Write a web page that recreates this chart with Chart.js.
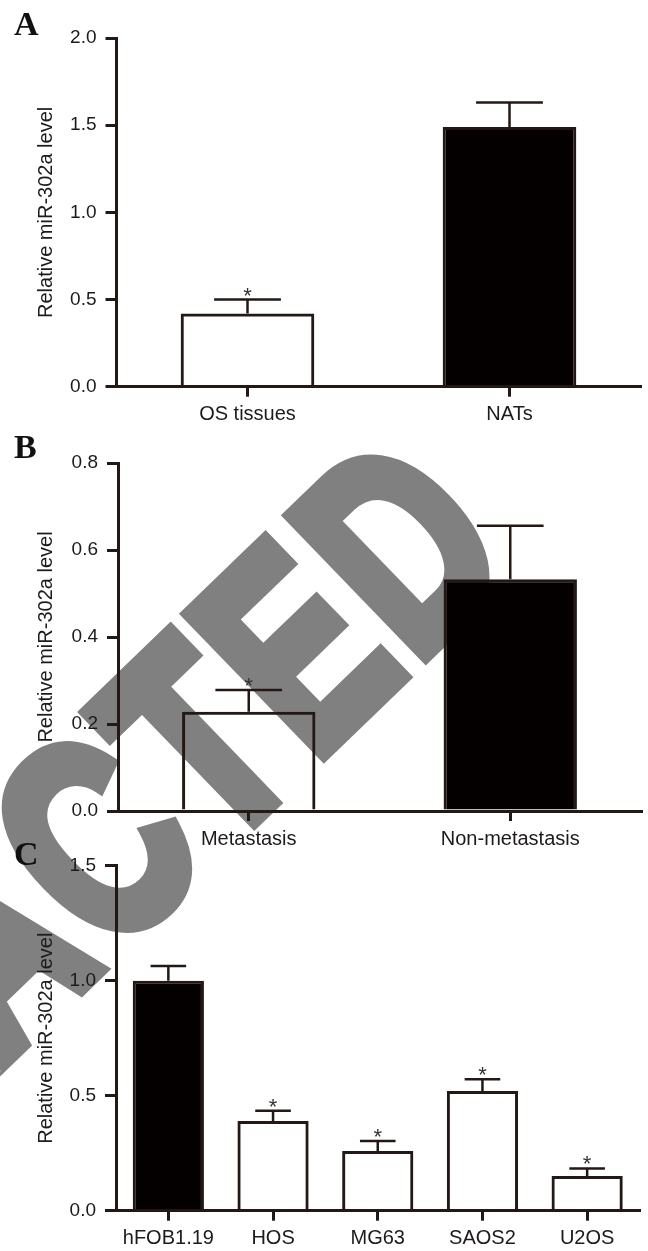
<!DOCTYPE html>
<html lang="en">
<head>
<meta charset="UTF-8">
<title>Relative miR-302a level</title>
<script src="https://cdn.jsdelivr.net/npm/chart.js@4.4.0/dist/chart.umd.min.js"></script>
<style>
  html, body { margin: 0; padding: 0; background: #fff; }
  #page { position: relative; width: 648px; height: 1251px; overflow: hidden; background: #fff; }
  .stamp {
    position: absolute; left: -581px; top: 1297px;
    font-family: 'Liberation Sans', Arial, sans-serif; font-weight: bold;
    font-size: 280px; line-height: 280px; white-space: nowrap; letter-spacing: 10px;
    color: #808080; -webkit-text-stroke: 16px #808080;
    transform-origin: 0 0; transform: rotate(-44deg) scaleX(0.72);
  }
  .panel { position: absolute; left: 0; width: 648px; }
  .panel canvas { display: block; }
  .tag {
    position: absolute; left: 14px;
    font-family: 'Liberation Serif', 'Times New Roman', serif; font-weight: bold;
    font-size: 34px; line-height: 34px; color: #111;
  }
</style>
</head>
<body>
<div id="page">
  <div class="stamp">RETRACTED</div>

  <div class="panel" style="top:0;height:432px"><canvas id="chartA" width="648" height="432"></canvas></div>
  <div class="panel" style="top:430px;height:430px"><canvas id="chartB" width="648" height="430"></canvas></div>
  <div class="panel" style="top:840px;height:411px"><canvas id="chartC" width="648" height="411"></canvas></div>

  <div class="tag" style="top:7px">A</div>
  <div class="tag" style="top:430px">B</div>
  <div class="tag" style="top:837px">C</div>
</div>

<script>
// ---- data ----
const labelsA = ['OS tissues', 'NATs'];
const meansA = [0.42, 1.49];
const sdsA = [0.08, 0.14];
const starsA = [true, false];
const ticksA = [0, 0.5, 1.0, 1.5, 2.0];

const labelsB = ['Metastasis', 'Non-metastasis'];
const meansB = [0.228, 0.533];
const sdsB = [0.05, 0.123];
const starsB = [true, false];
const ticksB = [0, 0.2, 0.4, 0.6, 0.8];

const labelsC = ['hFOB1.19', 'HOS', 'MG63', 'SAOS2', 'U2OS'];
const meansC = [1.0, 0.39, 0.26, 0.52, 0.151];
const sdsC = [0.064, 0.045, 0.043, 0.051, 0.033];
const starsC = [false, true, true, true, true];
const ticksC = [0, 0.5, 1.0, 1.5];

const yTitle = 'Relative miR-302a level';

// ---- styles ----
const INK = '#231815';
const BLACK_FILL = '#050000';
const OPEN_FILL = 'rgba(255,255,255,0)';
const FONT = "'Liberation Sans', Arial, sans-serif";

Chart.defaults.font.family = FONT;
Chart.defaults.color = '#1e1a1a';

// error bars + significance stars, positioned from the y scale
const errorBars = {
  id: 'errorBars',
  afterDatasetsDraw(chart, args, opts) {
    const ctx = chart.ctx;
    const y = chart.scales.y;
    const bars = chart.getDatasetMeta(0).data;
    ctx.save();
    ctx.strokeStyle = INK;
    ctx.lineWidth = 2.5;
    ctx.fillStyle = '#333';
    ctx.font = '22px ' + FONT;
    ctx.textAlign = 'center';
    ctx.textBaseline = 'alphabetic';
    bars.forEach((bar, i) => {
      const top = y.getPixelForValue(opts.means[i] + opts.sds[i]);
      const half = bar.width / 4;
      ctx.beginPath();
      ctx.moveTo(bar.x, bar.y);
      ctx.lineTo(bar.x, top);
      ctx.moveTo(bar.x - half, top);
      ctx.lineTo(bar.x + half, top);
      ctx.stroke();
      if (opts.stars[i]) ctx.fillText('*', bar.x, top + 3);
    });
    ctx.restore();
  }
};

function barPanel(id, p) {
  const canvas = document.getElementById(id);
  const H = canvas.height;
  const fills = p.solid.map(s => (s ? BLACK_FILL : OPEN_FILL));
  return new Chart(canvas, {
    type: 'bar',
    data: {
      labels: p.labels,
      datasets: [{
        data: p.means,
        backgroundColor: fills,
        borderColor: INK,
        borderWidth: 3,
        borderSkipped: 'start',
        barPercentage: p.barPct,
        categoryPercentage: 1
      }]
    },
    options: {
      responsive: false,
      animation: false,
      layout: { padding: { top: p.top, right: p.right, left: 0, bottom: 0 } },
      plugins: {
        legend: { display: false },
        tooltip: { enabled: false },
        errorBars: { means: p.means, sds: p.sds, stars: p.stars }
      },
      scales: {
        x: {
          offset: true,
          border: { display: true, color: INK, width: 3 },
          grid: { display: true, drawOnChartArea: false, drawTicks: true, tickLength: 10, color: INK, lineWidth: 3, offset: false },
          ticks: { font: { size: 20 }, padding: 6, maxRotation: 0 },
          afterFit: s => { s.height = H - p.bottom; }
        },
        y: {
          min: p.ticks[0],
          max: p.ticks[p.ticks.length - 1],
          border: { display: true, color: INK, width: 3 },
          grid: { display: true, drawOnChartArea: false, drawTicks: true, tickLength: 11, color: INK, lineWidth: 3 },
          afterBuildTicks: s => { s.ticks = p.ticks.map(v => ({ value: v })); },
          ticks: { font: { size: 19 }, padding: 9, callback: v => Number(v).toFixed(1) },
          title: { display: true, text: yTitle, font: { size: 20 }, padding: { top: 34, bottom: 0 } },
          afterFit: s => { s.width = p.axisX; }
        }
      }
    },
    plugins: [errorBars]
  });
}

barPanel('chartA', {
  labels: labelsA, means: meansA, sds: sdsA, stars: starsA, solid: [false, true],
  ticks: ticksA, top: 38, bottom: 386.7, right: 7.5, axisX: 116.5, barPct: 0.51
});
barPanel('chartB', {
  labels: labelsB, means: meansB, sds: sdsB, stars: starsB, solid: [false, true],
  ticks: ticksB, top: 33, bottom: 381, right: 7, axisX: 118, barPct: 0.51
});
barPanel('chartC', {
  labels: labelsC, means: meansC, sds: sdsC, stars: starsC, solid: [true, false, false, false, false],
  ticks: ticksC, top: 25.7, bottom: 370.7, right: 8.5, axisX: 116, barPct: 0.68
});
</script>
</body>
</html>
